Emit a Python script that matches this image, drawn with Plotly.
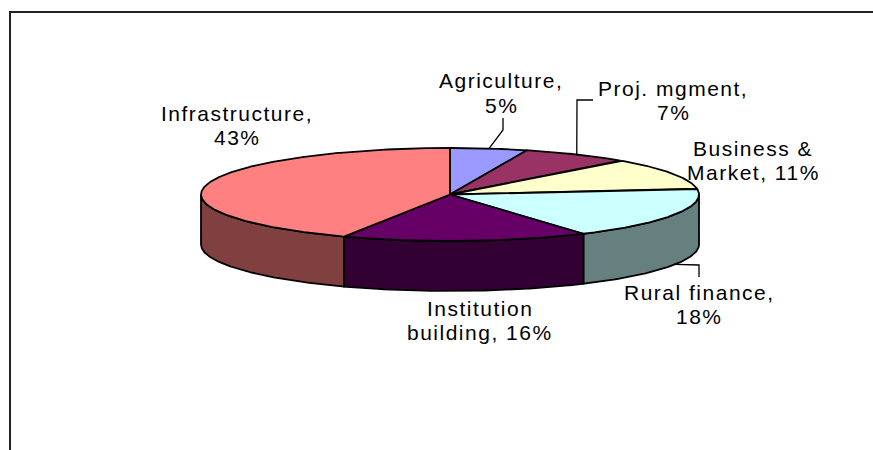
import numpy as np
import plotly.graph_objects as go

# --- data ---
categories = ["Agriculture", "Proj. mgment", "Business & Market", "Rural finance",
              "Institution building", "Infrastructure"]
values = [5, 7, 11, 18, 16, 43]
top_colors = ["#9999FF", "#993366", "#FFFFCC", "#CCFFFF", "#660066", "#FF8080"]
side_colors = ["#4C4C80", "#4C1A33", "#808066", "#668080", "#330033", "#804040"]

# --- geometry of the projected pie (pixels) ---
CX, CY, RX, RY, DEPTH = 450.0, 194.5, 249.0, 46.5, 50.0
LINE = dict(color="#000000", width=1.8)
TEXT = dict(family="Liberation Sans, Arial, sans-serif", size=21, color="#000000")
SPACING = 1.5


def rim(a0, a1, dy=0.0):
    t = np.radians(np.linspace(a0, a1, max(int(abs(a1 - a0)) * 2, 2)))
    return CX + RX * np.sin(t), CY - RY * np.cos(t) + dy


fig = go.Figure()
edges = np.concatenate([[0], np.cumsum(values)]) * 360.0 / sum(values)

# side walls (only the front half of the rim is visible)
for i, name in enumerate(categories):
    a0, a1 = max(edges[i], 90.0), min(edges[i + 1], 270.0)
    if a1 <= a0:
        continue
    x0, y0 = rim(a0, a1)
    x1, y1 = rim(a0, a1, DEPTH)
    fig.add_trace(go.Scatter(
        x=np.r_[x0, x1[::-1], x0[0]], y=np.r_[y0, y1[::-1], y0[0]],
        mode="lines", fill="toself", fillcolor=side_colors[i], line=LINE,
        name=name + " side", hoverinfo="skip"))

# top face
for i, name in enumerate(categories):
    x0, y0 = rim(edges[i], edges[i + 1])
    fig.add_trace(go.Scatter(
        x=np.r_[CX, x0, CX], y=np.r_[CY, y0, CY],
        mode="lines", fill="toself", fillcolor=top_colors[i], line=LINE,
        name=name, text=f"{name}, {values[i]}%", hoverinfo="text"))

# labels: one entry per category, split in lines, placed in pixels
label_lines = [
    (["Agriculture,", f"{values[0]}%"], 501, [80, 105]),
    (["Proj. mgment,", f"{values[1]}%"], 673, [88, 112]),
    (["Business &", f"Market, {values[2]}%"], 753, [148, 172]),
    (["Rural finance,", f"{values[3]}%"], 699, [292, 316]),
    (["Institution", f"building, {values[4]}%"], 480, [308, 332]),
    (["Infrastructure,", f"{values[5]}%"], 237, [113, 137]),
]
annotations = []
for lines, x, ys in label_lines:
    for line, y in zip(lines, ys):
        annotations.append(dict(x=x, y=y, xref="x", yref="y", showarrow=False,
                                text=f'<span style="letter-spacing:{SPACING}px">{line}</span>',
                                font=TEXT, xanchor="center", yanchor="middle"))


# leader lines start on the rim at the middle of their slice
def slice_mid(i, dy=0.0):
    a = (edges[i] + edges[i + 1]) / 2
    lx, ly = rim(a, a + 1, dy)
    return lx[0], ly[0]


leaders = [
    (slice_mid(0), [(503, 130), (503, 118)]),
    (slice_mid(1), [(577, 100), (593, 100)]),
    (slice_mid(3, DEPTH), [(699, 265), (699, 277)]),
]
for start, elbow in leaders:
    pts = [start] + elbow
    fig.add_trace(go.Scatter(
        x=[p[0] for p in pts], y=[p[1] for p in pts],
        mode="lines", line=dict(color="#000000", width=1.3), hoverinfo="skip", showlegend=False))

fig.update_layout(
    width=873, height=450, margin=dict(l=0, r=0, t=0, b=0),
    paper_bgcolor="#FFFFFF", plot_bgcolor="#FFFFFF", showlegend=False,
    xaxis=dict(range=[0, 873], visible=False, fixedrange=True),
    yaxis=dict(range=[450, 0], visible=False, fixedrange=True),
    annotations=annotations,
    shapes=[dict(type="path", path="M 10 450 L 10 12 L 873 12", xref="x", yref="y",
                 line=dict(color="#222222", width=2))],
)
fig.write_html("out.html", config=dict(displayModeBar=False),
               post_script="document.body.style.margin='0';")
